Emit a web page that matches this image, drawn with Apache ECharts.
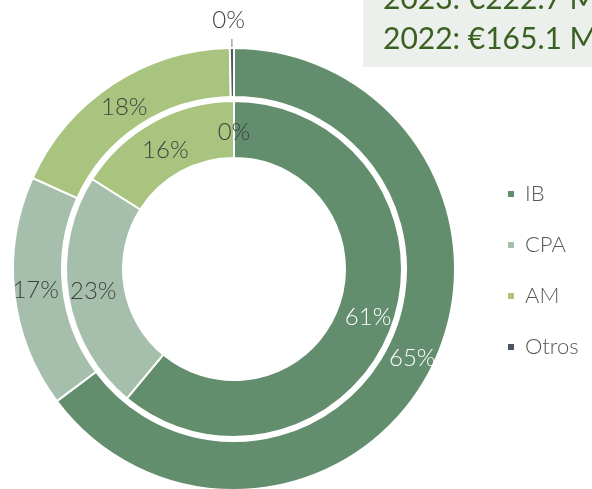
<!DOCTYPE html>
<html>
<head>
<meta charset="utf-8">
<script src="https://cdn.jsdelivr.net/npm/echarts@6/dist/echarts.min.js"></script>
<style>
  html, body { margin: 0; padding: 0; background: #fff; }
  #chart { width: 592px; height: 489px; }
</style>
</head>
<body>
<div id="chart"></div>
<script>
  // categorias y valores (%)
  var categories = ['IB', 'CPA', 'AM', 'Otros'];
  var values2023 = [65, 17, 18, 0.3];   // anillo exterior
  var values2022 = [61, 23, 16, 0];     // anillo interior
  var colors = ['#628e6e', '#a6bfac', '#a9c47f', '#4b5563'];
  var totals = ['2023: €222.7 M', '2022: €165.1 M'];

  var font = 'Lato, "Open Sans", sans-serif';

  function buildData(vals) {
    var list = [];
    for (var i = 0; i < categories.length; i++) {
      list.push({
        name: categories[i],
        value: vals[i],
        itemStyle: { color: colors[i] },
        label: { color: i == 0 ? '#ffffff' : '#404040' }
      });
    }
    return list;
  }

  var pctLabel = function (p) { return Math.round(p.percent) + '%'; };

  var outerData = buildData(values2023);
  outerData[2].label.offset = [0, 5];
  // la porcion "Otros" exterior lleva la etiqueta fuera
  outerData[3].label = { position: 'outside', color: '#404040', distance: 0, offset: [18, -19] };
  outerData[3].labelLine = { show: true, length: 9, length2: 0, lineStyle: { color: '#a6a6a6', width: 1.5 } };

  var innerData = buildData(values2022);
  innerData[2].label.offset = [0, 6];
  innerData[3].label.offset = [0, 6];

  var chart = echarts.init(document.getElementById('chart'));
  var option = {
    animation: false,
    legend: {
      orient: 'vertical',
      left: 501,
      top: 178,
      itemWidth: 8,
      itemHeight: 8,
      itemGap: 29,
      icon: 'rect',
      data: categories,
      textStyle: { fontFamily: font, fontSize: 22, fontWeight: 300, color: '#595959', padding: [0, 0, 0, 5] }
    },
    graphic: [
      {
        type: 'rect',
        shape: { x: 363, y: 0, width: 240, height: 67 },
        style: { fill: '#ebf0ec' }
      },
      {
        type: 'text',
        x: 383, y: -16,
        style: { text: totals[0], font: '30px ' + font, fill: '#3b6022' }
      },
      {
        type: 'text',
        x: 383, y: 24,
        style: { text: totals[1], font: '30px ' + font, fill: '#3b6022' }
      }
    ],
    series: [
      {
        name: '2023',
        type: 'pie',
        center: [234, 269],
        radius: [172, 221],
        startAngle: 90,
        clockwise: true,
        avoidLabelOverlap: false,
        label: {
          show: true,
          position: 'inside',
          formatter: pctLabel,
          fontFamily: font,
          fontSize: 24,
          fontWeight: 300
        },
        labelLine: { show: false },
        itemStyle: { borderColor: '#ffffff', borderWidth: 2 },
        emphasis: { disabled: true },
        data: outerData
      },
      {
        name: '2022',
        type: 'pie',
        center: [234, 269],
        radius: [111, 168],
        startAngle: 90,
        clockwise: true,
        avoidLabelOverlap: false,
        label: {
          show: true,
          position: 'inside',
          formatter: pctLabel,
          fontFamily: font,
          fontSize: 24,
          fontWeight: 300
        },
        labelLine: { show: false },
        itemStyle: { borderColor: '#ffffff', borderWidth: 2 },
        emphasis: { disabled: true },
        data: innerData
      }
    ]
  };
  chart.setOption(option);
</script>
</body>
</html>
